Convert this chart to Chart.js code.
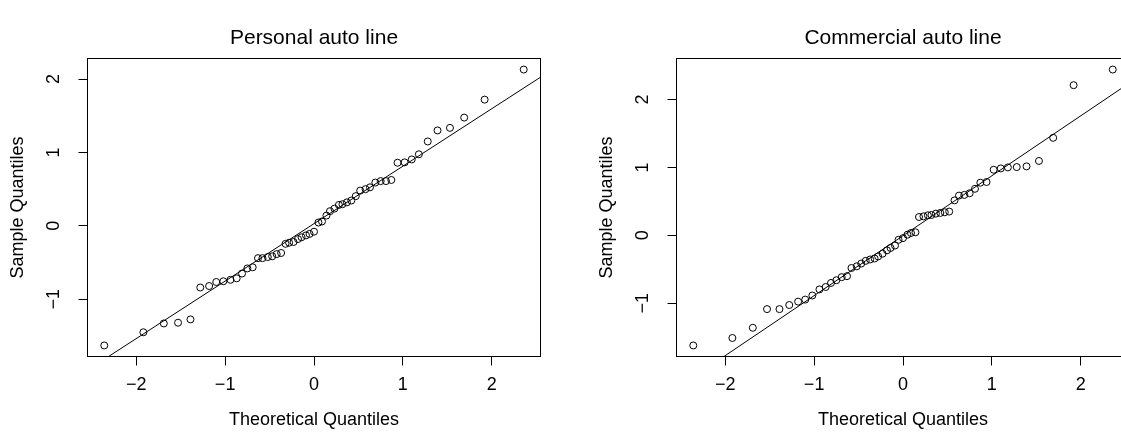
<!DOCTYPE html>
<html>
<head>
<meta charset="utf-8">
<script src="https://cdn.jsdelivr.net/npm/chart.js@4.4.0/dist/chart.umd.min.js"></script>
<style>
  html, body { margin: 0; padding: 0; background: #fff; overflow: hidden; }
  #wrap { position: relative; width: 1121px; height: 435px; overflow: hidden; }
  .panel { position: absolute; top: 0; width: 587px; height: 435px; }
</style>
</head>
<body>
<div id="wrap">
  <div class="panel" style="left:0"><canvas id="personal" width="587" height="435"></canvas></div>
  <div class="panel" style="left:589px"><canvas id="commercial" width="587" height="435"></canvas></div>
</div>
<script>
// theoretical normal quantiles (x positions, 55 points per panel)
const theoretical = [-2.36, -1.92, -1.69, -1.53, -1.39, -1.28, -1.18, -1.10, -1.02, -0.94,
  -0.87, -0.81, -0.75, -0.69, -0.63, -0.58, -0.52, -0.47, -0.42, -0.37,
  -0.32, -0.28, -0.23, -0.18, -0.14, -0.09, -0.05, 0, 0.05, 0.09,
  0.14, 0.18, 0.23, 0.28, 0.32, 0.37, 0.42, 0.47, 0.52, 0.58,
  0.63, 0.69, 0.75, 0.81, 0.87, 0.94, 1.02, 1.10, 1.18, 1.28,
  1.39, 1.53, 1.69, 1.92, 2.36];

// sample quantiles, personal auto line
const personal = [-1.63, -1.45, -1.33, -1.32, -1.275, -0.84, -0.82, -0.765, -0.755, -0.735,
  -0.715, -0.65, -0.58, -0.565, -0.44, -0.44, -0.425, -0.415, -0.385, -0.37,
  -0.245, -0.23, -0.22, -0.18, -0.155, -0.13, -0.11, -0.08, 0.045, 0.06,
  0.14, 0.20, 0.235, 0.285, 0.295, 0.32, 0.345, 0.405, 0.48, 0.50,
  0.525, 0.59, 0.61, 0.61, 0.625, 0.86, 0.865, 0.905, 0.975, 1.15,
  1.30, 1.335, 1.475, 1.72, 2.13];

// sample quantiles, commercial auto line
const commercial = [-1.62, -1.51, -1.36, -1.085, -1.085, -1.025, -0.975, -0.945, -0.885, -0.795,
  -0.76, -0.70, -0.66, -0.615, -0.60, -0.48, -0.455, -0.415, -0.375, -0.355,
  -0.34, -0.31, -0.27, -0.22, -0.185, -0.15, -0.065, -0.04, 0.01, 0.035,
  0.045, 0.27, 0.28, 0.295, 0.30, 0.32, 0.33, 0.34, 0.35, 0.515,
  0.585, 0.595, 0.62, 0.685, 0.775, 0.785, 0.965, 0.985, 1.00, 1.005,
  1.015, 1.095, 1.435, 2.21, 2.44];

// qqline: [intercept, slope]
const personalLine = [0.03, 0.783];
const commercialLine = [-0.005, 0.882];

const xTicks = [-2, -1, 0, 1, 2];
const yTicks = [-1, 0, 1, 2];

const FONT = '"Liberation Sans", Arial, Helvetica, sans-serif';

function rRange(vals) {
  const lo = Math.min(...vals), hi = Math.max(...vals), d = (hi - lo) * 0.04;
  return [lo - d, hi + d];
}
function tickText(v) {
  return v < 0 ? '\u2212' + Math.abs(v) : String(v);
}

// R style box, titles and tick labels
const rFrame = {
  id: 'rFrame',
  afterDraw(chart, args, opts) {
    const { ctx, chartArea: a, scales } = chart;
    const cx = (a.left + a.right) / 2;
    ctx.save();
    ctx.strokeStyle = '#000';
    ctx.lineWidth = 1;
    ctx.strokeRect(a.left, a.top, a.right - a.left, a.bottom - a.top);
    ctx.fillStyle = '#000';
    ctx.textAlign = 'center';
    ctx.textBaseline = 'middle';
    ctx.font = '21px ' + FONT;
    ctx.fillText(opts.title, cx, 38);
    ctx.font = '18px ' + FONT;
    xTicks.forEach(v => ctx.fillText(tickText(v), scales.x.getPixelForValue(v), 385));
    ctx.fillText('Theoretical Quantiles', cx, 420);
    yTicks.forEach(v => {
      ctx.save();
      ctx.translate(54, scales.y.getPixelForValue(v));
      ctx.rotate(-Math.PI / 2);
      ctx.fillText(tickText(v), 0, 0);
      ctx.restore();
    });
    ctx.translate(18, (a.top + a.bottom) / 2);
    ctx.rotate(-Math.PI / 2);
    ctx.fillText('Sample Quantiles', 0, 0);
    ctx.restore();
  }
};

function qqChart(id, title, sample, line) {
  const [xMin, xMax] = rRange(theoretical);
  const [yMin, yMax] = rRange(sample);
  const points = theoretical.map((x, i) => ({ x: x, y: sample[i] }));
  const ref = [xMin, xMax].map(x => ({ x: x, y: line[0] + line[1] * x }));
  const tickGrid = { drawOnChartArea: false, drawTicks: true, tickLength: 9, color: '#000', lineWidth: 1 };

  return new Chart(document.getElementById(id), {
    type: 'scatter',
    data: {
      datasets: [
        {
          data: points,
          pointStyle: 'circle',
          pointRadius: 3.5,
          pointBorderWidth: 1,
          borderColor: '#000',
          backgroundColor: 'rgba(0,0,0,0)',
          showLine: false
        },
        {
          type: 'line',
          data: ref,
          borderColor: '#000',
          borderWidth: 1,
          pointRadius: 0,
          fill: false
        }
      ]
    },
    options: {
      responsive: false,
      animation: false,
      events: [],
      layout: { padding: { top: 58.5, right: 46.5, left: 0, bottom: 0 } },
      plugins: {
        legend: { display: false },
        tooltip: { enabled: false },
        rFrame: { title: title }
      },
      scales: {
        x: {
          type: 'linear',
          min: xMin,
          max: xMax,
          grid: tickGrid,
          border: { display: false },
          ticks: { display: false, includeBounds: false },
          afterBuildTicks: s => { s.ticks = xTicks.map(v => ({ value: v })); },
          afterFit: s => { s.height = 78.5; }
        },
        y: {
          type: 'linear',
          min: yMin,
          max: yMax,
          grid: tickGrid,
          border: { display: false },
          ticks: { display: false, includeBounds: false },
          afterBuildTicks: s => { s.ticks = yTicks.map(v => ({ value: v })); },
          afterFit: s => { s.width = 87.5; }
        }
      }
    },
    plugins: [rFrame]
  });
}

qqChart('personal', 'Personal auto line', personal, personalLine);
qqChart('commercial', 'Commercial auto line', commercial, commercialLine);
</script>
</body>
</html>
